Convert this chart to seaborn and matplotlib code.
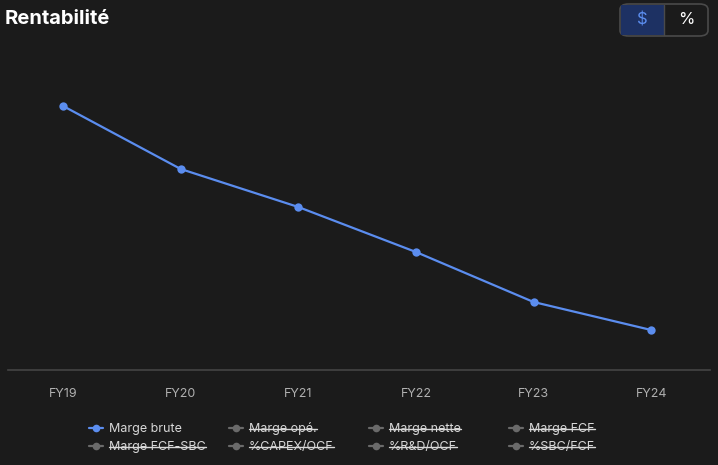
import matplotlib
matplotlib.use("Agg")
import matplotlib.pyplot as plt
from matplotlib.patches import FancyBboxPatch, Rectangle
from matplotlib.lines import Line2D
import seaborn as sns
import pandas as pd

# donnees (marge brute, echelle estimee)
years = ["FY19", "FY20", "FY21", "FY22", "FY23", "FY24"]
gross_margin = [66.4, 60.1, 56.3, 51.8, 46.8, 44.0]

legend_labels = ["Marge brute", "Marge opé.", "Marge nette", "Marge FCF",
                 "Marge FCF-SBC", "%CAPEX/OCF", "%R&D/OCF", "%SBC/FCF"]
legend_active = [True, False, False, False, False, False, False, False]

BG = "#1b1b1b"
BLUE = "#5b8def"
GREY = "#6a6a6a"
TXT = "#d8d8d8"

sns.set_theme(style="dark")
plt.rcParams['font.family'] = ['Inter', 'DejaVu Sans']

df = pd.DataFrame({"year": years, "value": gross_margin})
df["pos"] = range(len(df))

fig = plt.figure(figsize=(7.18, 4.65), dpi=100, facecolor=BG)
W, H = 718, 465
ax = fig.add_axes([8 / W, (H - 370) / H, (710 - 8) / W, (370 - 40) / H])
ax.set_facecolor(BG)

sns.lineplot(data=df, x="pos", y="value", ax=ax, color=BLUE, linewidth=1.6,
             marker="o", markersize=6, markeredgewidth=0, legend=False)

ax.set_xlim(-0.468, 5.5)
ax.set_ylim(40, 73)
ax.set_xticks(df["pos"])
ax.set_xticklabels(years, color="#b0b0b0", fontsize=9)
ax.tick_params(axis="x", length=0, pad=13)
ax.set_yticks([])
ax.set_xlabel("")
ax.set_ylabel("")
ax.grid(False)
for side in ["top", "left", "right"]:
    ax.spines[side].set_visible(False)
ax.spines["bottom"].set_color("#454545")
ax.spines["bottom"].set_linewidth(1.2)

# titre
fig.text(5 / W, 1 - 19 / H, "Rentabilité", color="white", fontsize=14.5,
         fontweight="bold", va="center", ha="left")

# bouton $ / %
btn = FancyBboxPatch((620 / W, 1 - 36 / H), 88 / W, 32 / H,
                     boxstyle="round,pad=0,rounding_size=0.012",
                     transform=fig.transFigure, facecolor=BG,
                     edgecolor="#4a4a4a", linewidth=1.2)
fig.patches.append(btn)
left = Rectangle((621 / W, 1 - 35 / H), 43 / W, 30 / H, transform=fig.transFigure,
                 facecolor="#1d3163", edgecolor="none")
fig.patches.append(left)
fig.add_artist(Line2D([664 / W, 664 / W], [1 - 35 / H, 1 - 5 / H],
                      transform=fig.transFigure, color="#4a4a4a", linewidth=1))
fig.text(642 / W, 1 - 20 / H, "$", color=BLUE, fontsize=12, ha="center", va="center")
fig.text(686 / W, 1 - 20 / H, "%", color="white", fontsize=12, ha="center", va="center")

# legende (4 colonnes x 2 lignes), placee a la main
col_x = [89, 229, 369, 509]
row_base = [432, 450]
texts = []
for i, lab in enumerate(legend_labels):
    r, c = divmod(i, 4)
    x0 = col_x[c]
    yb = row_base[r]
    col = BLUE if legend_active[i] else GREY
    ym = 1 - (yb - 4) / H
    fig.add_artist(Line2D([x0 / W, (x0 + 14) / W], [ym, ym],
                          transform=fig.transFigure, color=col, linewidth=1.6))
    fig.add_artist(Line2D([(x0 + 7) / W], [ym], transform=fig.transFigure,
                          color=col, marker="o", markersize=5.5, markeredgewidth=0))
    t = fig.text((x0 + 20) / W, 1 - yb / H, lab, color=TXT, fontsize=9,
                 ha="left", va="baseline")
    texts.append((t, i, yb))

# texte barre pour les series desactivees
fig.canvas.draw()
renderer = fig.canvas.get_renderer()
for t, i, yb in texts:
    if legend_active[i]:
        continue
    bb = t.get_window_extent(renderer)
    ys = 1 - (yb - 3.5) / H
    fig.add_artist(Line2D([bb.x0 / W, bb.x1 / W], [ys, ys],
                          transform=fig.transFigure, color=TXT, linewidth=1))

fig.savefig("out.png", dpi=100, facecolor=BG)
